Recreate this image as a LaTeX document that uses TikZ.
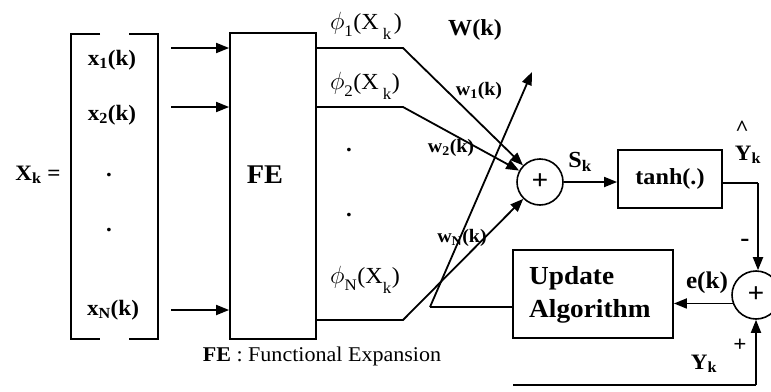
\documentclass[tikz,border=0pt]{standalone}
\usepackage{fontspec}
\setmainfont{Liberation Serif}[FakeStretch=1.05]
\usetikzlibrary{arrows.meta,calc}
\newcommand{\bigphi}{{\fontsize{30}{30}\selectfont$\phi$}}
\begin{document}
\begin{tikzpicture}[x=1pt,y=-1pt,
  lbl/.style={font=\bfseries\fontsize{22}{25}\selectfont, inner sep=0},
  wlbl/.style={font=\bfseries\fontsize{19}{22}\selectfont, inner sep=0},
  rlbl/.style={font=\fontsize{23}{25}\selectfont, inner sep=0},
  blk/.style={draw, line width=1.8pt, inner sep=0},
  sumc/.style={circle, draw, line width=1.6pt, inner sep=0, font=\bfseries\fontsize{28}{30}\selectfont},
  ln/.style={line width=1.8pt},
  arr/.style={line width=1.8pt, -{Triangle[length=13pt,width=10pt]}}]
\useasboundingbox (0,0) rectangle (771,391);
\clip (0,0) rectangle (771,391);

% input vector bracket
\draw[ln] (100,34) -- (71,34) -- (71,339) -- (100,339);
\draw[ln] (129,34) -- (158,34) -- (158,339) -- (129,339);
\node[lbl] (xk) at (38,175) {X\textsubscript{k} =};
\node[lbl] (x1) at (112,60) {x\textsubscript{1}(k)};
\node[lbl] (x2) at (112,115) {x\textsubscript{2}(k)};
\node[lbl] (d1) at (109,175) {.};
\node[lbl] (d2) at (109,230) {.};
\node[lbl] (xn) at (113,310) {x\textsubscript{N}(k)};

% FE block
\node[blk, minimum width=86pt, minimum height=306pt] (fe) at (273,186) {};
\node[font=\bfseries\fontsize{27}{30}\selectfont, inner sep=0] (felbl) at (265,175) {FE};
\coordinate (i1) at (171,48);
\coordinate (i2) at (171,107);
\coordinate (i3) at (171,310);
\draw[arr] (i1) -- (i1 -| fe.west);
\draw[arr] (i2) -- (i2 -| fe.west);
\draw[arr] (i3) -- (i3 -| fe.west);

% summing junction
\node[sumc, minimum size=46pt] (sum) at (540,182) {+};

% expansion outputs
\coordinate (p1) at (403,48);
\coordinate (p2) at (403,107);
\coordinate (pn) at (403,320);
\draw[arr] (p1 -| fe.east) -- (p1) -- (sum);
\draw[arr] (p2 -| fe.east) -- (p2) -- (sum);
\draw[arr] (pn -| fe.east) -- (pn) -- (sum);
\node[rlbl] (phi1) at (366,26) {\bigphi\textsubscript{\raisebox{-3pt}{1}}(X\hspace{4pt}\textsubscript{\raisebox{-6pt}{k}}\hspace{2pt})};
\node[rlbl] (phi2) at (365,86) {\bigphi\textsubscript{\raisebox{-3pt}{2}}(X\hspace{4pt}\textsubscript{\raisebox{-6pt}{k}})};
\node[rlbl] (phin) at (365,280) {\bigphi\textsubscript{\raisebox{-3pt}{N}}(X\textsubscript{\raisebox{-6pt}{k}})};
\node[lbl] (d3) at (349,150) {.};
\node[lbl] (d4) at (349,215) {.};

% weights
\node[lbl, font=\bfseries\fontsize{23}{26}\selectfont] (wk) at (475,30) {W(k)};
\node[wlbl] (w1) at (479,91) {w\textsubscript{1}(k)};
\node[wlbl] (w2) at (451,148) {w\textsubscript{2}(k)};
\node[wlbl] (wn) at (462,238) {w\textsubscript{N}(k)};

% activation
\node[blk, minimum width=104pt, minimum height=58pt, font=\bfseries\fontsize{23}{26}\selectfont] (tanh) at (670,179) {tanh(.)};
\draw[arr] (sum) -- (tanh.west |- sum);
\node[lbl, font=\bfseries\fontsize{23}{26}\selectfont] (sk) at (580,162) {S\textsubscript{k}};

% error junction
\node[sumc, minimum size=48pt] (sum2) at (756,295) {+};
\coordinate (c1) at (758,183);
\draw[ln] (tanh.east |- c1) -- (c1);
\draw[arr] (c1) -- (c1 |- sum2.north);
\node[lbl] (hat) at (742,128) {\^{}};
\node[lbl] (yhat) at (748,155) {Y\textsubscript{k}};
\node[lbl, font=\bfseries\fontsize{26}{28}\selectfont] (minus) at (745,243) {-};

% update algorithm
\node[blk, minimum width=160pt, minimum height=88pt] (upd) at (593,294) {};
\node[font=\bfseries\fontsize{26}{33}\selectfont, inner sep=0, align=left, anchor=north west] (updlbl) at (529,266) {Update\\Algorithm};
\draw[arr] (sum2.200) -- (upd.east |- sum2.200);
\node[lbl, font=\bfseries\fontsize{24}{27}\selectfont] (ek) at (707,283) {e(k)};

% desired output
\coordinate (yin) at (513,385);
\draw[ln] (yin) -- (yin -| sum2);
\draw[arr] (yin -| sum2) -- (sum2.south);
\node[lbl] (plus) at (740,345) {+};
\node[lbl] (yk) at (704,364) {Y\textsubscript{k}};

% weight update arrow
\coordinate (wc) at (430,307);
\coordinate (wt) at (532,72);
\draw[ln] (upd.west |- wc) -- (wc);
\draw[arr] (wc) -- (wt);

% caption
\node[rlbl, font=\fontsize{21}{24}\selectfont] (cap) at (322,356) {\textbf{FE} : Functional Expansion};
\end{tikzpicture}
\end{document}
